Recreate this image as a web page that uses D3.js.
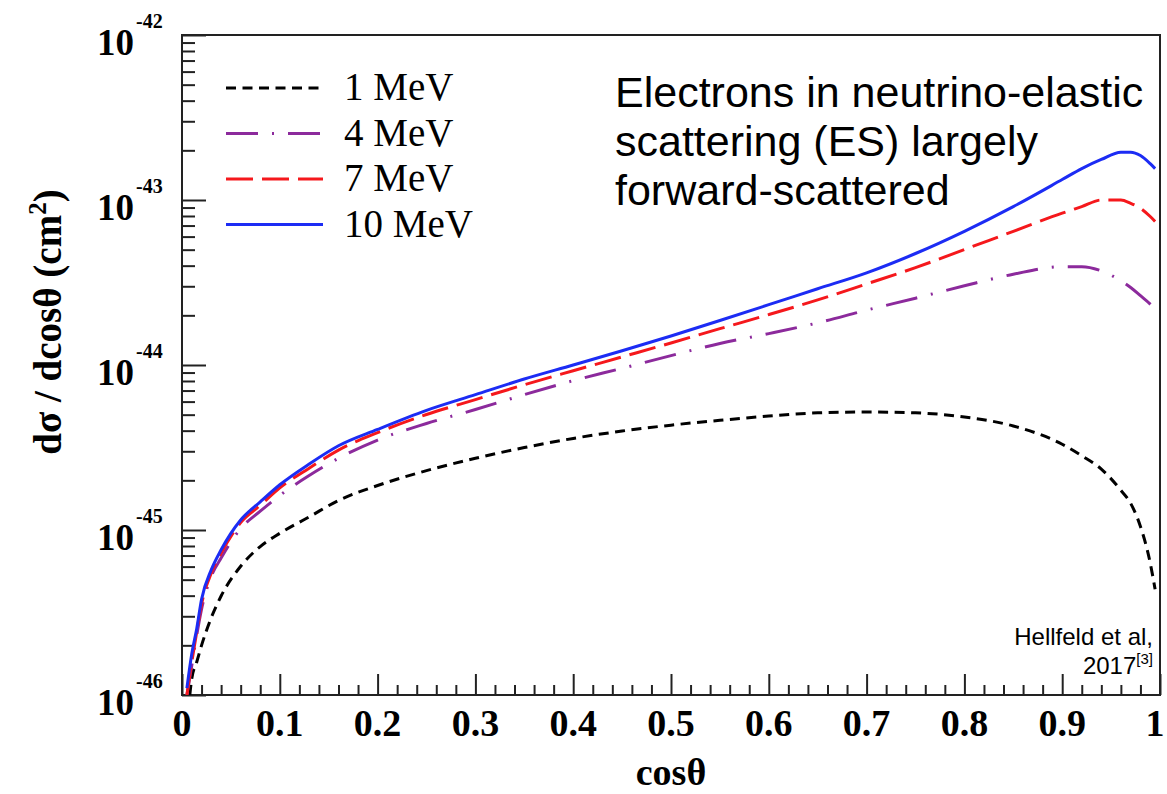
<html lang='en'>
<head>
   <meta charset='UTF-8'>
   <script src='https://d3js.org/d3.v7.min.js'></script>
   <style>
      html, body {
         margin: 0;
         padding: 0;
         background-color: white;
      }
   </style>
</head>
<body>
   <div id='tavola'></div>
   <script>
   // cos(theta) grid and d(sigma)/dcos(theta) in cm^2
   var cosTheta = [0.005, 0.01, 0.015, 0.02, 0.03, 0.04, 0.06, 0.08, 0.1, 0.13, 0.16, 0.2, 0.25, 0.3, 0.35, 0.4, 0.45,
      0.5, 0.55, 0.6, 0.65, 0.7, 0.75, 0.8, 0.85, 0.9, 0.92, 0.94, 0.96, 0.97, 0.98, 0.99, 0.995];

   var sigma1MeV = [6.31e-47, 1.26e-46, 1.58e-46, 2.00e-46, 2.95e-46, 3.98e-46, 6.03e-46, 7.94e-46, 9.55e-46, 1.20e-45,
      1.51e-45, 1.86e-45, 2.29e-45, 2.72e-45, 3.16e-45, 3.59e-45, 3.98e-45, 4.32e-45, 4.62e-45, 4.90e-45, 5.13e-45,
      5.19e-45, 5.13e-45, 4.84e-45, 4.27e-45, 3.31e-45, 2.82e-45, 2.34e-45, 1.74e-45, 1.45e-45, 1.05e-45, 6.31e-46, 4.37e-46];
   var sigma4MeV = [1.00e-46, 1.51e-46, 2.29e-46, 3.31e-46, 5.25e-46, 6.76e-46, 1.02e-45, 1.30e-45, 1.62e-45, 2.14e-45,
      2.72e-45, 3.51e-45, 4.42e-45, 5.37e-45, 6.61e-45, 8.04e-45, 9.55e-45, 1.14e-44, 1.35e-44, 1.55e-44, 1.80e-44,
      2.15e-44, 2.54e-44, 3.02e-44, 3.55e-44, 3.94e-44, 3.94e-44, 3.72e-44, 3.24e-44, 2.95e-44, 2.63e-44, 2.34e-44, 2.19e-44];
   var sigma7MeV = [1.00e-46, 1.58e-46, 2.40e-46, 3.55e-46, 5.50e-46, 7.24e-46, 1.11e-45, 1.41e-45, 1.80e-45, 2.37e-45,
      3.05e-45, 3.89e-45, 5.01e-45, 6.17e-45, 7.59e-45, 9.23e-45, 1.12e-44, 1.36e-44, 1.66e-44, 2.02e-44, 2.48e-44,
      3.10e-44, 3.89e-44, 5.01e-44, 6.46e-44, 8.32e-44, 9.12e-44, 1.00e-43, 1.00e-43, 9.55e-44, 8.91e-44, 7.94e-44, 7.41e-44];
   var sigma10MeV = [1.10e-46, 1.78e-46, 2.51e-46, 3.80e-46, 5.75e-46, 7.59e-46, 1.15e-45, 1.48e-45, 1.88e-45, 2.51e-45,
      3.24e-45, 4.07e-45, 5.31e-45, 6.61e-45, 8.22e-45, 1.00e-44, 1.22e-44, 1.50e-44, 1.86e-44, 2.32e-44, 2.90e-44,
      3.62e-44, 4.74e-44, 6.46e-44, 9.12e-44, 1.33e-43, 1.55e-43, 1.76e-43, 1.95e-43, 1.95e-43, 1.86e-43, 1.66e-43, 1.55e-43];

   var seriesNames = ['1 MeV', '4 MeV', '7 MeV', '10 MeV'];
   var seriesValues = [sigma1MeV, sigma4MeV, sigma7MeV, sigma10MeV];

   var xTickValues = [0, 0.1, 0.2, 0.3, 0.4, 0.5, 0.6, 0.7, 0.8, 0.9, 1];
   var xTickLabels = ['0', '0.1', '0.2', '0.3', '0.4', '0.5', '0.6', '0.7', '0.8', '0.9', '1'];
   var yTickExponents = ['-46', '-45', '-44', '-43', '-42'];

   var annotationLines = ['Electrons in neutrino-elastic', 'scattering (ES) largely', 'forward-scattered'];

   var W = 1167, H = 794;
   var pLeft = 182, pRight = 1160, pTop = 35, pBottom = 695;
   var serif = "'Liberation Serif', 'Times New Roman', serif";
   var sans = "'Liberation Sans', Arial, sans-serif";

   var colors = ['#000000', '#8c2a9c', '#f5181c', '#1c2cf4'];
   var dashes = ['10,6.5', '32,14,2,14', '27,9', null];

   var svg = d3.select('#tavola').append('svg')
      .attr('width', W)
      .attr('height', H)
      .style('display', 'block')
      .style('background', 'white');

   var x = d3.scaleLinear().domain([0, 1]).range([pLeft, pRight]);
   var y = d3.scaleLog().domain([1e-46, 1e-42]).range([pBottom, pTop]);

   svg.append('defs').append('clipPath').attr('id', 'plotclip')
      .append('rect')
      .attr('x', pLeft).attr('y', pTop)
      .attr('width', pRight - pLeft).attr('height', pBottom - pTop);

   // ticks, drawn inward like ROOT
   var yAll = y.ticks();
   var yMajor = yAll.filter(function(d){ return Math.abs(Math.log10(d) - Math.round(Math.log10(d))) < 1e-6; });
   var yMinor = yAll.filter(function(d){ return yMajor.indexOf(d) < 0; });

   svg.append('g')
      .attr('transform', 'translate(' + pLeft + ',0)')
      .call(d3.axisLeft(y).tickValues(yMajor).tickSize(-24).tickFormat(''))
      .call(function(g){ g.select('.domain').remove(); });
   svg.append('g')
      .attr('transform', 'translate(' + pLeft + ',0)')
      .call(d3.axisLeft(y).tickValues(yMinor).tickSize(-13).tickFormat(''))
      .call(function(g){ g.select('.domain').remove(); });

   var xMinor = d3.range(0, 50).map(function(i){ return i / 50; }).filter(function(d, i){ return i % 5 !== 0; });
   svg.append('g')
      .attr('transform', 'translate(0,' + pBottom + ')')
      .call(d3.axisBottom(x).tickValues(xTickValues).tickSize(-21).tickFormat(''))
      .call(function(g){ g.select('.domain').remove(); });
   svg.append('g')
      .attr('transform', 'translate(0,' + pBottom + ')')
      .call(d3.axisBottom(x).tickValues(xMinor).tickSize(-10).tickFormat(''))
      .call(function(g){ g.select('.domain').remove(); });

   svg.selectAll('.tick line')
      .attr('stroke', '#222')
      .attr('stroke-width', 2);

   // frame
   svg.append('rect')
      .attr('x', pLeft).attr('y', pTop)
      .attr('width', pRight - pLeft).attr('height', pBottom - pTop)
      .attr('fill', 'none')
      .attr('stroke', '#222')
      .attr('stroke-width', 2);

   // x tick labels
   svg.append('g').selectAll('text')
      .data(xTickValues)
      .enter().append('text')
      .attr('x', function(d){ return Math.min(x(d), W - 12); })
      .attr('y', 736)
      .attr('text-anchor', 'middle')
      .attr('font-family', serif)
      .attr('font-weight', 'bold')
      .attr('font-size', '38px')
      .attr('fill', 'black')
      .text(function(d, i){ return xTickLabels[i]; });

   // y tick labels 10^n
   var yl = svg.append('g').selectAll('g')
      .data(yMajor)
      .enter().append('g');
   yl.append('text')
      .attr('x', 134)
      .attr('y', function(d){ return y(d) + 20; })
      .attr('text-anchor', 'end')
      .attr('font-family', serif)
      .attr('font-weight', 'bold')
      .attr('font-size', '37px')
      .text('10');
   yl.append('text')
      .attr('x', 136)
      .attr('y', function(d){ return y(d) - 7; })
      .attr('font-family', serif)
      .attr('font-weight', 'bold')
      .attr('font-size', '20px')
      .text(function(d, i){ return yTickExponents[i]; });

   // axis titles
   svg.append('text')
      .attr('x', (pLeft + pRight) / 2)
      .attr('y', 785)
      .attr('text-anchor', 'middle')
      .attr('font-family', serif)
      .attr('font-weight', 'bold')
      .attr('font-size', '38px')
      .text('cos\u03b8');

   var yt = svg.append('text')
      .attr('transform', 'translate(61,322) rotate(-90)')
      .attr('text-anchor', 'middle')
      .attr('font-family', serif)
      .attr('font-weight', 'bold')
      .attr('font-size', '39px');
   yt.append('tspan').text('d\u03c3 / dcos\u03b8 (cm');
   yt.append('tspan').attr('dy', -15).attr('font-size', '25px').text('2');
   yt.append('tspan').attr('dy', 15).text(')');

   // curves
   var line = d3.line()
      .x(function(d){ return x(d[0]); })
      .y(function(d){ return y(d[1]); })
      .curve(d3.curveMonotoneX);

   var curves = svg.append('g').attr('clip-path', 'url(#plotclip)');
   for (let i = 0; i < seriesValues.length; i++) {
      curves.append('path')
         .datum(cosTheta.map(function(c, k){ return [c, seriesValues[i][k]]; }))
         .attr('d', line)
         .attr('fill', 'none')
         .attr('stroke', colors[i])
         .attr('stroke-width', 3)
         .attr('stroke-dasharray', dashes[i]);
   }

   // legend
   var legend = svg.append('g');
   for (let i = 0; i < seriesNames.length; i++) {
      var ly = 88 + i * 45.5;
      legend.append('line')
         .attr('x1', 226).attr('x2', 323)
         .attr('y1', ly).attr('y2', ly)
         .attr('stroke', colors[i])
         .attr('stroke-width', 3)
         .attr('stroke-dasharray', dashes[i]);
      legend.append('text')
         .attr('x', 344)
         .attr('y', ly + 12)
         .attr('font-family', serif)
         .attr('font-size', '39px')
         .text(seriesNames[i]);
   }

   // annotation
   svg.append('g').selectAll('text')
      .data(annotationLines)
      .enter().append('text')
      .attr('x', 615)
      .attr('y', function(d, i){ return 107 + i * 49; })
      .attr('font-family', sans)
      .attr('font-size', '43px')
      .attr('fill', 'black')
      .text(function(d){ return d; });

   svg.append('text')
      .attr('x', 1153)
      .attr('y', 645)
      .attr('text-anchor', 'end')
      .attr('font-family', sans)
      .attr('font-size', '24px')
      .text('Hellfeld et al,');
   var ref = svg.append('text')
      .attr('x', 1153)
      .attr('y', 674)
      .attr('text-anchor', 'end')
      .attr('font-family', sans)
      .attr('font-size', '24px');
   ref.append('tspan').text('2017');
   ref.append('tspan').attr('dy', -10).attr('font-size', '15px').text('[3]');
   </script>
</body>
</html>
